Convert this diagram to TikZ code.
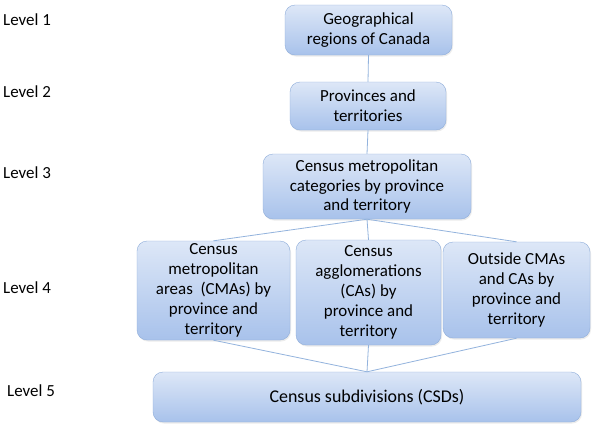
\documentclass[tikz,border=0pt]{standalone}
\usepackage{fontspec}
\setmainfont{Carlito}
\usetikzlibrary{shadows}
\definecolor{boxtop}{HTML}{DDE7F7}
\definecolor{boxbot}{HTML}{A8C2EB}
\definecolor{boxline}{HTML}{8EADDA}
\definecolor{linkline}{HTML}{93B3DD}
\tikzset{
  levelbox/.style={draw=boxline,rounded corners=10bp,top color=boxtop,bottom color=boxbot,
    align=center,inner sep=0pt,drop shadow={opacity=0.15,shadow xshift=1bp,shadow yshift=-1.5bp}},
  link/.style={draw=linkline,line width=0.8bp},
  levtext/.style={anchor=west,inner sep=0pt}
}
\begin{document}
\begin{tikzpicture}[x=1bp,y=-1bp,font=\fontsize{17}{20}\selectfont]
  \useasboundingbox[fill=white] (0,0) rectangle (600,425);
  % livelli a sinistra
  \node[levtext] (l1) at (3,20) {Level 1};
  \node[levtext] (l2) at (3,92) {Level 2};
  \node[levtext] (l3) at (3,173) {Level 3};
  \node[levtext] (l4) at (3,288) {Level 4};
  \node[levtext] (l5) at (7,391) {Level 5};
  % caselle
  \node[levelbox,minimum width=167bp,minimum height=50bp] (geo) at (368.5,30) {Geographical\\regions of Canada};
  \node[levelbox,minimum width=156bp,minimum height=48bp] (prov) at (368,106) {Provinces and\\territories};
  \node[levelbox,minimum width=208bp,minimum height=65bp] (cat) at (367,186.5) {Census metropolitan\\categories by province\\and territory};
  \node[levelbox,minimum width=153bp,minimum height=99bp] (cma) at (213.5,290.5) {Census\\metropolitan\\areas \ (CMAs) by\\province and\\territory};
  \node[levelbox,minimum width=145bp,minimum height=105bp] (ca) at (368.5,292.5) {Census\\agglomerations\\(CAs) by\\province and\\territory};
  \node[levelbox,minimum width=147bp,minimum height=96bp] (out) at (516.5,290) {Outside CMAs\\and CAs by\\province and\\territory};
  \node[levelbox,minimum width=428bp,minimum height=50bp,font=\fontsize{18}{22}\selectfont] (csd) at (367,397) {Census subdivisions (CSDs)};
  % collegamenti
  \path[link] (geo.south) -- (prov.north);
  \path[link] (prov.south) -- (cat.north);
  \foreach \b in {cma,ca,out} {
    \path[link] (cat.south) -- (\b.north);
    \path[link] (\b.south) -- (csd.north);
  }
\end{tikzpicture}
\end{document}
